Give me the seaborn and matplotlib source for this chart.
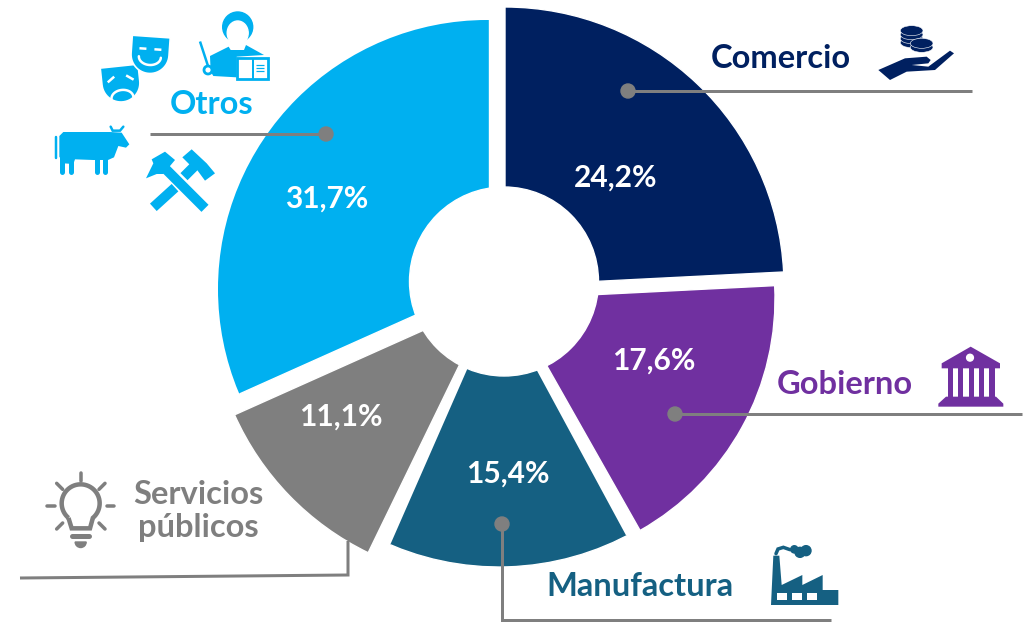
import numpy as np
import seaborn as sns
import matplotlib
matplotlib.use("Agg")
import matplotlib.pyplot as plt
from matplotlib.patches import Circle, Ellipse, Polygon, Rectangle, Wedge

# -----------------------------
# Data
# -----------------------------
categories = ["Comercio", "Gobierno", "Manufactura", "Servicios\npúblicos", "Otros"]
shares = [24.2, 17.6, 15.4, 11.1, 31.7]
colors = ["#002060", "#7030A0", "#156082", "#7F7F7F", "#00B0F0"]

# each slice is pulled out by hand in the original: (x, y from top, radius) in pixels
slice_geom = [(505, 286, 279), (509, 299, 266), (499, 290, 277), (491, 300, 281), (489.5, 282, 300)]
pct_pos = [(616, 176), (654, 359), (508, 472), (341, 415), (327, 197)]
name_pos = [(781, 59), (845, 385), (640, 587), (198, 511), (212, 105)]

W, H = 1028, 623
GREY = "#7F7F7F"

sns.set_theme(style="white")
plt.rcParams["font.family"] = ["Lato", "DejaVu Sans"]
plt.rcParams["font.weight"] = "bold"

fig = plt.figure(figsize=(W / 100, H / 100), dpi=100)

# -----------------------------
# Donut
# -----------------------------
ax = fig.add_axes([0, 0, 1, 1])
wedges, _ = ax.pie(shares, colors=colors, startangle=90, counterclock=False)
for w, (x, y, r) in zip(wedges, slice_geom):
    w.set_center((x, H - y))
    w.set_radius(r)
ax.set_xlim(0, W)
ax.set_ylim(0, H)
ax.set_aspect("equal")
ax.axis("off")

# outlines that the pulled-out slices do not follow exactly (pie turns clipping off)
wedges[4].set_clip_on(True)
wedges[4].set_clip_path(Circle((487, H - 289), 269, transform=ax.transData))
wedges[2].set_clip_on(True)
wedges[2].set_clip_path(Polygon([(480, H - 340), (520.4, H - 340), (661, H - 600), (366, H - 600)],
                                transform=ax.transData))

# overlay in pixel coords, y going down
ov = fig.add_axes([0, 0, 1, 1])
ov.set_xlim(0, W)
ov.set_ylim(H, 0)
ov.axis("off")
ov.patch.set_alpha(0)

ov.add_patch(Circle((504, 281.5), 94.5, color="white", zorder=2))


def stroke(pts, color, px=3.0, cap="butt", z=4):
    xs, ys = zip(*pts)
    ov.plot(xs, ys, color=color, lw=px * 0.72, solid_capstyle=cap, solid_joinstyle="miter", zorder=z)


def poly(pts, color, z=4):
    ov.add_patch(Polygon(pts, closed=True, facecolor=color, edgecolor="none", zorder=z))


def zp(ox, oy, pts):
    return [(ox + a / 3, oy + b / 3) for a, b in pts]


# -----------------------------
# Leader lines
# -----------------------------
stroke([(628, 91), (972, 91)], GREY)
stroke([(150, 134), (326, 134)], GREY)
stroke([(675, 414), (1022, 414)], GREY)
stroke([(502, 524), (502, 620), (831, 620)], GREY)
stroke([(348, 541), (348, 575), (20, 578)], GREY)
for p in [(628, 91), (326, 134), (675, 414), (502, 524)]:
    ov.add_patch(Circle(p, 7, color=GREY, zorder=5))

# -----------------------------
# Text
# -----------------------------
for (x, y), v in zip(pct_pos, shares):
    ov.text(x, y + 2, f"{v:.1f}".replace(".", ",") + "%", color="white", fontsize=21.5,
            ha="center", va="center", zorder=6)
for (x, y), name, c in zip(name_pos, categories, colors):
    ov.text(x, y, name, color=c, fontsize=23.5, ha="center", va="center",
            linespacing=1.2, zorder=6)


# -----------------------------
# Icons
# -----------------------------
def mask(cx, cy, w, h, rot, happy, color):
    t = np.radians(np.linspace(0, 180, 30))
    local = [(-w / 2, -h / 2), (w / 2, -h / 2)]
    local += [(w / 2 * np.cos(a), h / 2 - w / 2 + w / 2 * np.sin(a)) for a in t]
    c, s = np.cos(np.radians(rot)), np.sin(np.radians(rot))
    rotp = lambda a, b: (cx + a * c - b * s, cy + a * s + b * c)
    ov.add_patch(Polygon([rotp(a, b) for a, b in local], facecolor=color, edgecolor="white", lw=1.2, zorder=4))
    if happy:
        stroke([rotp(-11, -6), rotp(-4, -6)], "white", 2.5, z=5)
        stroke([rotp(4, -6), rotp(11, -6)], "white", 2.5, z=5)
        arc = [rotp(11 * np.cos(a), 2 + 8 * np.sin(a)) for a in t]
    else:
        stroke([rotp(-13, -3), rotp(-6, -8)], "white", 2.5, z=5)
        stroke([rotp(6, -8), rotp(13, -3)], "white", 2.5, z=5)
        arc = [rotp(11 * np.cos(a), 14 - 8 * np.sin(a)) for a in t]
    stroke(arc, "white", 2.5, cap="round", z=5)


# Otros icons
BLUE = colors[4]
mask(121, 84, 38, 36, -6, False, BLUE)
mask(150, 55, 38, 37, 4, True, BLUE)

# teacher
ov.add_patch(Circle((237.7, 27), 15, color=BLUE, zorder=4))
ov.add_patch(Ellipse((237.7, 33), 21, 24, color="white", zorder=5))
poly(zp(40, 0, [(510, 168), (566, 140), (572, 150), (612, 150), (618, 135), (672, 165),
                (590, 170), (590, 232), (520, 228), (512, 215)]), BLUE)
stroke([(200, 41.5), (208, 66)], BLUE, 2.5)
ov.add_patch(Circle((208, 70), 4, facecolor="white", edgecolor=BLUE, lw=2, zorder=5))
ov.add_patch(Rectangle((237, 58), 31, 21, facecolor="white", edgecolor=BLUE, lw=2, zorder=5))
stroke([(252.5, 58), (252.5, 79)], BLUE, 2, z=6)
poly([(239, 60), (251, 60), (251, 77), (239, 77)], "white", z=6)
for yy in [65, 68, 71]:
    stroke([(256, yy), (264, yy)], BLUE, 1.2, z=6)

# cow
poly(zp(40, 0, [(58, 408), (70, 396), (210, 396), (245, 398), (268, 433), (258, 443), (235, 438),
                (222, 472), (204, 480), (160, 480), (105, 478), (100, 492), (70, 490), (58, 470)]), BLUE)
for a, b, c in [(66, 470, 517), (92, 480, 517), (170, 470, 517), (196, 470, 517)]:
    stroke(zp(40, 0, [(a, b), (a, c)]), BLUE, 5, cap="round")
stroke(zp(40, 0, [(47, 412), (47, 475)]), BLUE, 2.5, cap="round")
stroke(zp(40, 0, [(212, 380), (218, 392), (240, 392), (250, 380)]), BLUE, 2.5, cap="round")

# crossed hammers
stroke(zp(40, 0, [(365, 495), (495, 625)]), BLUE, 10)
poly(zp(40, 0, [(318, 535), (340, 490), (335, 478), (375, 455), (405, 480), (370, 522), (350, 522)]), BLUE)
stroke(zp(40, 0, [(340, 622), (405, 563)]), BLUE, 10)
stroke(zp(40, 0, [(432, 530), (465, 497)]), BLUE, 10)
poly(zp(40, 0, [(427, 472), (455, 448), (500, 490), (525, 520), (495, 542), (470, 508), (450, 495)]), BLUE)

# hand with coins
NAVY = colors[0]
poly(zp(860, 10, [(55, 180), (135, 145), (200, 140), (212, 150), (205, 160), (155, 165), (205, 170),
                  (270, 122), (282, 130), (225, 180), (140, 185), (90, 210)]), NAVY)
for cx, top, bottom in [(155, 60, 98), (185, 92, 112)]:
    for yy in np.arange(bottom, top - 1, -12):
        ov.add_patch(Ellipse(zp(860, 10, [(cx, yy)])[0], 68 / 3, 30 / 3, facecolor=NAVY,
                             edgecolor="white", lw=0.4, zorder=4))

# courthouse
PURPLE = colors[1]
poly(zp(920, 335, [(65, 85), (152, 35), (240, 85), (240, 100), (65, 100)]), PURPLE)
ov.add_patch(Circle(zp(920, 335, [(150, 68)])[0], 3.4, color="white", zorder=5))
for a, b in [(85, 100), (115, 130), (146, 161), (177, 192), (208, 224)]:
    poly(zp(920, 335, [(a, 100), (b, 100), (b, 187), (a, 187)]), PURPLE)
poly(zp(920, 335, [(78, 185), (228, 185), (250, 206), (250, 215), (55, 215), (55, 206)]), PURPLE)

# factory
TEAL = colors[2]
poly(zp(750, 535, [(63, 210), (70, 62), (88, 62), (95, 150), (157, 120), (157, 150), (218, 120),
                   (218, 165), (265, 165), (265, 210)]), TEAL)
for a in [82, 127, 172]:
    poly(zp(750, 535, [(a, 175), (a + 28, 175), (a + 28, 195), (a, 195)]), "white", z=5)
stroke(zp(750, 535, [(78, 56), (84, 42), (100, 37), (120, 44)]), TEAL, 3.5, cap="round")
for a, b, r in [(133, 43, 3.6), (150, 52, 5), (168, 47, 5)]:
    ov.add_patch(Circle(zp(750, 535, [(a, b)])[0], r, color=TEAL, zorder=4))

# light bulb
t = np.radians(np.linspace(130, 410, 50))
bulb = zp(10, 460, [(212 + 57 * np.cos(a), 130 + 57 * np.sin(a)) for a in t])
bulb = bulb[:] + zp(10, 460, [(240, 205), (185, 205)]) + [bulb[0]]
stroke(bulb, GREY, 4.5)
stroke(zp(10, 460, [(187, 227), (237, 227)]), GREY, 5, cap="round")
ov.add_patch(Wedge(zp(10, 460, [(212, 246)])[0], 5.5, 0, 180, color=GREY, zorder=4))
for a, b, c, d in [(212, 40, 212, 62), (140, 70, 158, 88), (285, 70, 267, 88), (112, 137, 135, 137),
                   (290, 137, 313, 137), (140, 207, 158, 189), (285, 207, 267, 189)]:
    stroke(zp(10, 460, [(a, b), (c, d)]), GREY, 3.5, cap="round")

fig.savefig("out.png", dpi=100)
